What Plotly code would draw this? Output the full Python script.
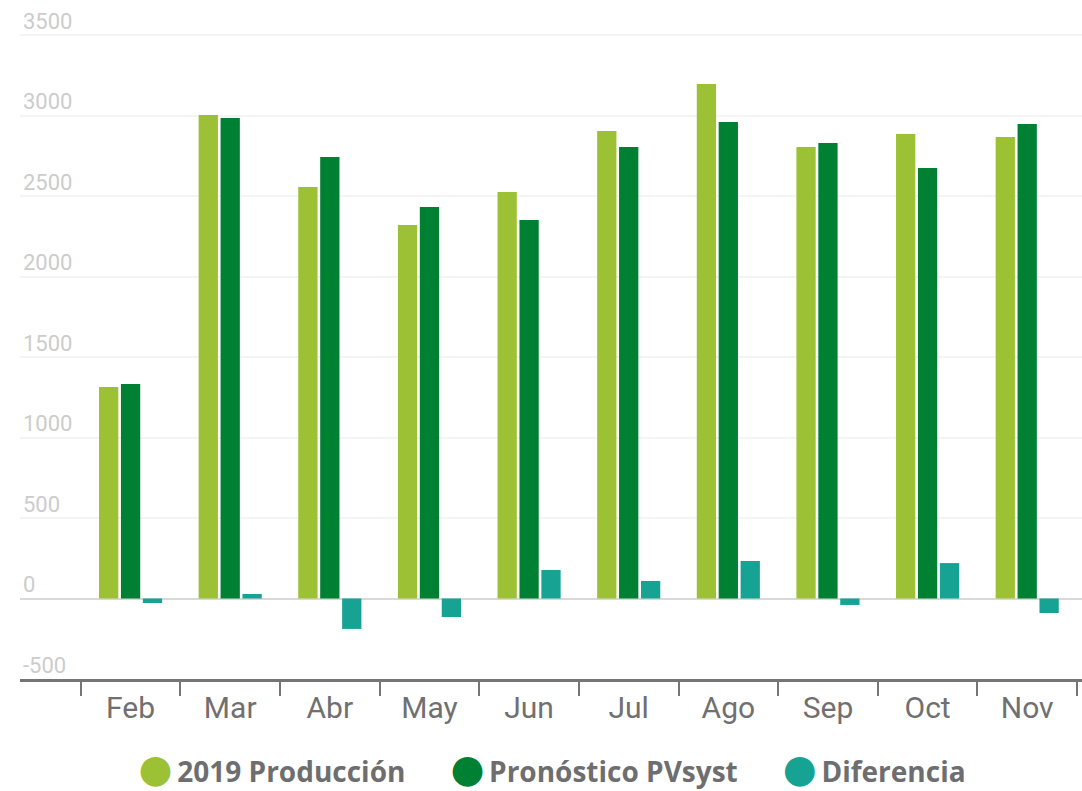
import plotly.graph_objects as go

months = ["Feb", "Mar", "Abr", "May", "Jun", "Jul", "Ago", "Sep", "Oct", "Nov"]
produccion_2019 = [1314, 3003, 2556, 2320, 2525, 2904, 3196, 2804, 2885, 2866]
pronostico_pvsyst = [1332, 2984, 2742, 2432, 2351, 2804, 2959, 2829, 2674, 2947]
diferencia = [-28, 28, -189, -115, 177, 109, 233, -40, 220, -90]
y_ticks = [-500, 0, 500, 1000, 1500, 2000, 2500, 3000, 3500]

series_names = ["2019 Producción", "Pronóstico PVsyst", "Diferencia"]
colors = ["#9DC134", "#008033", "#17A394"]
series_values = [produccion_2019, pronostico_pvsyst, diferencia]

fig = go.Figure()
for name, vals, col in zip(series_names, series_values, colors):
    fig.add_trace(go.Bar(x=months, y=vals, name=name, marker=dict(color=col, line=dict(width=0)),
                         showlegend=False))
# legend-only entries: large circle glyph drawn as text before the name
for name, col in zip(series_names, colors):
    label = ('<span style="color:%s;font-family:DejaVu Sans;font-size:39px">●</span>\u2009%s' % (col, name))
    fig.add_trace(go.Scatter(x=[None], y=[None], mode="markers", name=label,
                             marker=dict(symbol="circle", size=2, color="rgba(0,0,0,0)",
                                         opacity=0),
                             showlegend=True))

fig.update_layout(
    width=1082, height=791,
    paper_bgcolor="white", plot_bgcolor="white",
    margin=dict(l=20, r=0, t=33, b=112, autoexpand=False),
    barmode="group", bargap=0.34, bargroupgap=0.12,
    legend=dict(orientation="h", x=0.485, xanchor="center", y=-0.143, yanchor="middle",
                font=dict(family="Open Sans", size=28, color="#6E6E70", weight="bold"),
                itemwidth=30, tracegroupgap=0),
    font=dict(family="Roboto"),
)
fig.update_xaxes(
    type="category", range=[-1.11, 9.55], automargin=False,
    showline=True, linecolor="#757575", linewidth=3,
    ticks="outside", tickson="boundaries", ticklen=14, tickwidth=2, tickcolor="#757575",
    tickfont=dict(family="Roboto", size=30, color="#707070"),
    showgrid=False, zeroline=False,
)
fig.update_yaxes(
    range=[-500, 3512.5], tickvals=y_ticks, ticktext=[str(v) for v in y_ticks],
    automargin=False,
    showgrid=True, gridcolor="#F4F4F4", gridwidth=1.5,
    zeroline=True, zerolinecolor="#D9D9D9", zerolinewidth=2,
    showline=False, ticks="",
    ticklabelposition="inside", ticklabelshift=-14, ticklabelstandoff=0,
    ticklabeloverflow="allow",
    tickfont=dict(family="Roboto", size=22, color="#CCCCCC"),
)

fig.write_html("out.html", config={"displayModeBar": False},
               post_script="document.body.style.margin='0px';")
